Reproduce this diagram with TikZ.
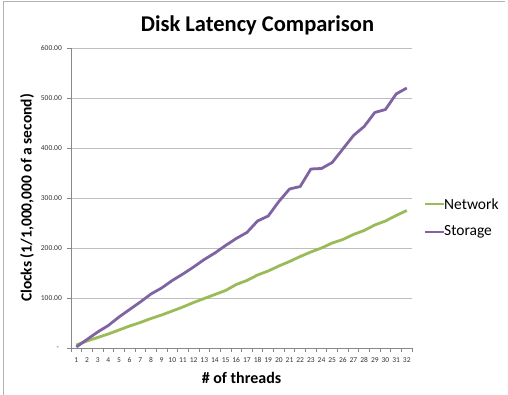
\documentclass[tikz,border=0pt]{standalone}
\usepackage{fontspec}
\setmainfont{Carlito}
\definecolor{netgreen}{HTML}{9BBB59}
\definecolor{storpurple}{HTML}{8064A2}
\definecolor{gridgray}{HTML}{BEBEBE}
\definecolor{axisgray}{HTML}{888888}
\tikzset{
  gridline/.style={gridgray,line width=0.8pt},
  axisline/.style={axisgray,line width=0.8pt},
  ticklab/.style={font=\fontsize{7.5}{8}\selectfont,text=black!80,inner sep=0pt},
  netline/.style={netgreen,line width=2.8pt,line join=round},
  storline/.style={storpurple,line width=2.8pt,line join=round},
  leglab/.style={font=\fontsize{15.5}{17}\selectfont,anchor=west,inner sep=0pt},
}
\begin{document}
\begin{tikzpicture}[x=1pt,y=1pt]
\useasboundingbox (0,0) rectangle (508,395);
\draw[gray!60,line width=0.8pt] (3,0) -- (3,394) -- (505,394);
\node[font=\bfseries\fontsize{22.5}{26}\selectfont] (title) at (257.5,370) {Disk Latency Comparison};
\node[font=\bfseries\fontsize{15.5}{18}\selectfont,rotate=90] (ylab) at (27,197) {Clocks (1/1,000,000 of a second)};
\node[font=\bfseries\fontsize{16}{18}\selectfont] (xlab) at (241.5,17) {\# of threads};
\begin{scope}[shift={(65.67,47)},x=10.66pt,y=0.5pt]
\foreach \v in {100,200,...,600}
  \draw[gridline] (0.5,\v) -- (32.5,\v);
\draw[axisline] (0.5,600) -- (0.5,0) -- (32.5,0);
\foreach \v in {0,100,...,600}
  \draw[axisline] (0.5,\v) -- ++(-4pt,0pt);
\foreach \k in {0,...,32}
  \draw[axisline] (\k+0.5,0) -- ++(0pt,-4pt);
\foreach \v in {100,200,...,600}
  \node[ticklab,anchor=east] (yt\v) at ([xshift=-9pt]0.5,\v) {\v.00};
\node[ticklab,anchor=east] (yt0) at ([xshift=-12pt]0.5,0) {-};
\foreach \i in {1,...,32}
  \node[ticklab] (xt\i) at ([yshift=-12pt]\i,0) {\i};
% data
\draw[netline] plot coordinates {(1,6) (2,14) (3,21) (4,28) (5,36) (6,44) (7,51) (8,59) (9,66) (10,74) (11,82) (12,91) (13,99) (14,107) (15,115) (16,127) (17,135) (18,146) (19,154) (20,164) (21,173) (22,183) (23,192) (24,200) (25,210) (26,217) (27,227) (28,235) (29,246) (30,254) (31,265) (32,275)};
\draw[storline] plot coordinates {(1,2) (2,17) (3,32) (4,45) (5,62) (6,77) (7,92) (8,108) (9,120) (10,135) (11,148) (12,162) (13,177) (14,190) (15,205) (16,219) (17,231) (18,254) (19,264) (20,293) (21,318) (22,323) (23,358) (24,359) (25,371) (26,398) (27,425) (28,443) (29,471) (30,477) (31,508) (32,520)};
\end{scope}
% legend
\node[leglab] (netlab) at (444,191) {Network};
\node[leglab] (storlab) at (444,163) {Storage};
\draw[netgreen,line width=2.5pt] ([xshift=-19pt]netlab.west) -- (netlab.west);
\draw[storpurple,line width=2.5pt] ([xshift=-19pt]storlab.west) -- (storlab.west);
\end{tikzpicture}
\end{document}
